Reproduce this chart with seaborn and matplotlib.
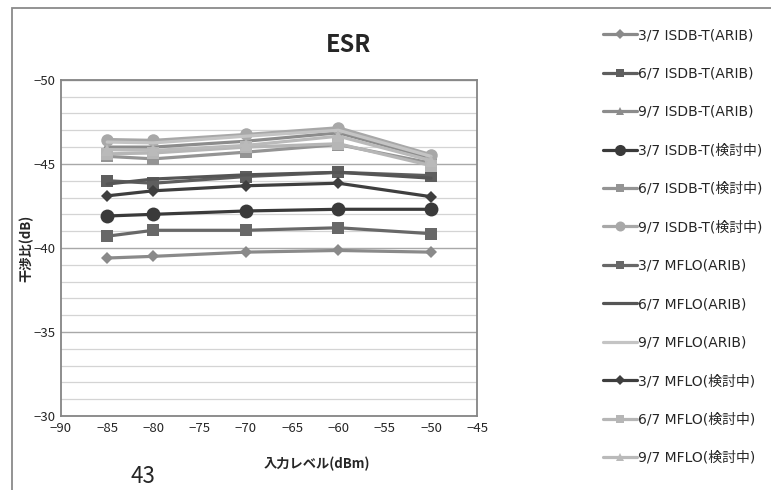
import matplotlib
matplotlib.use('Agg')
import matplotlib.pyplot as plt
from matplotlib.lines import Line2D
from matplotlib.patches import Rectangle
from matplotlib.ticker import MultipleLocator
import seaborn as sns

# input level (dBm)
levels = [-85, -80, -70, -60, -50]

labels = ['3/7 ISDB-T(ARIB)', '6/7 ISDB-T(ARIB)', '9/7 ISDB-T(ARIB)',
          '3/7 ISDB-T(検討中)', '6/7 ISDB-T(検討中)', '9/7 ISDB-T(検討中)',
          '3/7 MFLO(ARIB)', '6/7 MFLO(ARIB)', '9/7 MFLO(ARIB)',
          '3/7 MFLO(検討中)', '6/7 MFLO(検討中)', '9/7 MFLO(検討中)']

isdb_arib_3 = [-39.4, -39.5, -39.75, -39.85, -39.75]
isdb_arib_6 = [-44.0, -43.85, -44.25, -44.5, -44.3]
isdb_arib_9 = [-46.0, -46.0, -46.35, -46.85, -45.35]
isdb_ken_3 = [-41.9, -42.0, -42.2, -42.3, -42.3]
isdb_ken_6 = [-45.45, -45.3, -45.7, -46.15, -45.05]
isdb_ken_9 = [-46.45, -46.4, -46.75, -47.15, -45.55]
mflo_arib_3 = [-40.7, -41.05, -41.05, -41.2, -40.85]
mflo_arib_6 = [-43.8, -44.1, -44.35, -44.5, -44.15]
mflo_arib_9 = [-46.3, -46.25, -46.65, -47.0, -45.45]
mflo_ken_3 = [-43.1, -43.4, -43.7, -43.85, -43.05]
mflo_ken_6 = [-45.6, -45.65, -46.0, -46.2, -44.9]
mflo_ken_9 = [-45.85, -45.8, -46.1, -46.65, -45.2]

series = [isdb_arib_3, isdb_arib_6, isdb_arib_9,
          isdb_ken_3, isdb_ken_6, isdb_ken_9,
          mflo_arib_3, mflo_arib_6, mflo_arib_9,
          mflo_ken_3, mflo_ken_6, mflo_ken_9]

colors = ['#8a8a8a', '#5e5e5e', '#8c8c8c',
          '#3a3a3a', '#949494', '#a8a8a8',
          '#686868', '#555555', '#c4c4c4',
          '#3e3e3e', '#b6b6b6', '#bababa']
markers = ['D', 's', '^', 'o', 's', 'o', 's', None, None, 'D', 's', '^']
msizes = [6, 8, 8, 10, 8, 9, 8, 0, 0, 6, 8, 8]

sns.set_style('white')
plt.rcParams['font.family'] = ['Noto Sans CJK JP', 'DejaVu Sans']

fig = plt.figure(figsize=(7.71, 4.9), dpi=100)
ax = fig.add_axes([0.079, 0.151, 0.540, 0.686])

for vals, lab, c, m, ms in zip(series, labels, colors, markers, msizes):
    sns.lineplot(x=levels, y=vals, ax=ax, color=c, marker=m,
                 markersize=ms, markeredgewidth=0, linewidth=2.3,
                 label=lab, legend=False)

ax.set_xlim(-90, -45)
ax.set_ylim(-30, -50)
ax.xaxis.set_major_locator(MultipleLocator(5))
ax.yaxis.set_major_locator(MultipleLocator(5))
ax.yaxis.set_minor_locator(MultipleLocator(1))
ax.grid(which='major', axis='y', color='#a8a8a8', linewidth=1)
ax.grid(which='minor', axis='y', color='#d4d4d4', linewidth=0.9)
ax.set_axisbelow(True)
for sp in ax.spines.values():
    sp.set_color('#858585')
    sp.set_linewidth(1.3)
ax.tick_params(axis='both', length=0, labelsize=9.5, pad=4)

ax.set_xlabel('入力レベル(dBm)', fontsize=9.5, fontweight='bold')
ax.xaxis.set_label_coords(0.615, -0.122)
ax.set_ylabel('干渉比(dB)', fontsize=9.5, fontweight='bold')
ax.yaxis.set_label_coords(-0.066, 0.5)
fig.text(0.452, 0.908, 'ESR', fontsize=17, fontweight='bold',
         ha='center', va='center')
fig.text(0.185, 0.028, '43', fontsize=16, ha='center', va='center')

# chart area frame (runs off the right and bottom edge)
fig.patches.append(Rectangle((0.0155, -0.05), 1.2, 1.034, transform=fig.transFigure,
                             fill=False, edgecolor='#8a8a8a', linewidth=1.3))

handles = [Line2D([], [], color=c, marker=m, markersize=ms * 0.8,
                  markeredgewidth=0, linewidth=2.3)
           for c, m, ms in zip(colors, markers, msizes)]
leg = fig.legend(handles, labels, loc='upper left', bbox_to_anchor=(0.775, 0.954),
                 frameon=False, fontsize=10, handlelength=2.45, handletextpad=0.1,
                 labelspacing=1.76, borderaxespad=0)
for t in leg.get_texts():
    t.set_family(['DejaVu Sans', 'Noto Sans CJK JP'])

fig.savefig('out.png', dpi=100)
